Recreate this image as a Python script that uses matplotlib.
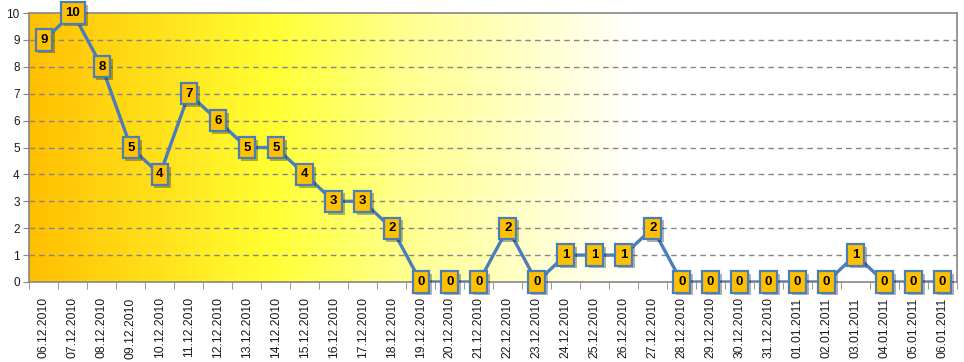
import matplotlib
matplotlib.use("Agg")
import matplotlib.pyplot as plt
import matplotlib.patheffects as pe
import numpy as np
from matplotlib.colors import LinearSegmentedColormap

dates = ["06.12.2010", "07.12.2010", "08.12.2010", "09.12.2010", "10.12.2010",
         "11.12.2010", "12.12.2010", "13.12.2010", "14.12.2010", "15.12.2010",
         "16.12.2010", "17.12.2010", "18.12.2010", "19.12.2010", "20.12.2010",
         "21.12.2010", "22.12.2010", "23.12.2010", "24.12.2010", "25.12.2010",
         "26.12.2010", "27.12.2010", "28.12.2010", "29.12.2010", "30.12.2010",
         "31.12.2010", "01.01.2011", "02.01.2011", "03.01.2011", "04.01.2011",
         "05.01.2011", "06.01.2011"]
values = [9, 10, 8, 5, 4, 7, 6, 5, 5, 4, 3, 3, 2, 0, 0, 0, 2, 0, 1, 1, 1, 2,
          0, 0, 0, 0, 0, 0, 1, 0, 0, 0]
yticks = list(range(0, 11))

plt.rcParams['font.family'] = ['Liberation Sans', 'DejaVu Sans']

fig = plt.figure(figsize=(9.64, 3.62), dpi=100)
ax = fig.add_axes([0.0306, 0.221, 0.9622, 0.743])

n = len(dates)
x = np.arange(n) + 0.5
ax.set_xlim(0, n)
ax.set_ylim(0, 10)

# gradient background
cmap = LinearSegmentedColormap.from_list(
    "bg", [(0.0, (1.0, 0.75, 0.0)), (0.26, (1.0, 1.0, 0.2)),
           (0.40, (1.0, 1.0, 0.55)), (0.66, (1.0, 1.0, 1.0)), (1.0, (1.0, 1.0, 1.0))])
grad = np.linspace(0, 1, 512).reshape(1, -1)
ax.imshow(grad, cmap=cmap, aspect='auto', extent=[0, 1, 0, 1],
          transform=ax.transAxes, zorder=0, interpolation='bilinear')

for y in yticks[1:-1]:
    ax.axhline(y, color='#868686', lw=1, ls=(0, (4, 3)), zorder=1)

for s in ax.spines.values():
    s.set_color('#868686')
    s.set_linewidth(1.2)

ax.set_yticks(yticks)
ax.set_yticklabels([str(v) for v in yticks], fontsize=8.5, color='#1a1a1a')
ax.tick_params(axis='y', length=4, color='#868686', pad=3)

ax.set_xticks(np.arange(0, n + 1), minor=True)
ax.set_xticks(x)
ax.set_xticklabels(dates, rotation=90, fontsize=8.7, color='#1a1a1a')
ax.tick_params(axis='x', which='major', length=0, pad=11)
ax.tick_params(axis='x', which='minor', length=5, color='#868686')

line_color = '#4A7EBB'
ax.plot(x, values, color=line_color, lw=2.4, zorder=3, solid_joinstyle='round')

for xi, v in zip(x, values):
    t = ax.annotate(str(v), (xi, v), xytext=(0, 0), textcoords='offset points',
                    ha='center', va='center', fontsize=9.5, fontweight='bold',
                    color='black', zorder=5, annotation_clip=False,
                    bbox=dict(boxstyle='square,pad=0.35', fc='#FFC000',
                              ec=line_color, lw=1.6))
    t.get_bbox_patch().set_path_effects([
        pe.SimplePatchShadow(offset=(2, -2), shadow_rgbFace='#000000', alpha=0.3),
        pe.Normal()])

fig.savefig("out.png", dpi=100)
